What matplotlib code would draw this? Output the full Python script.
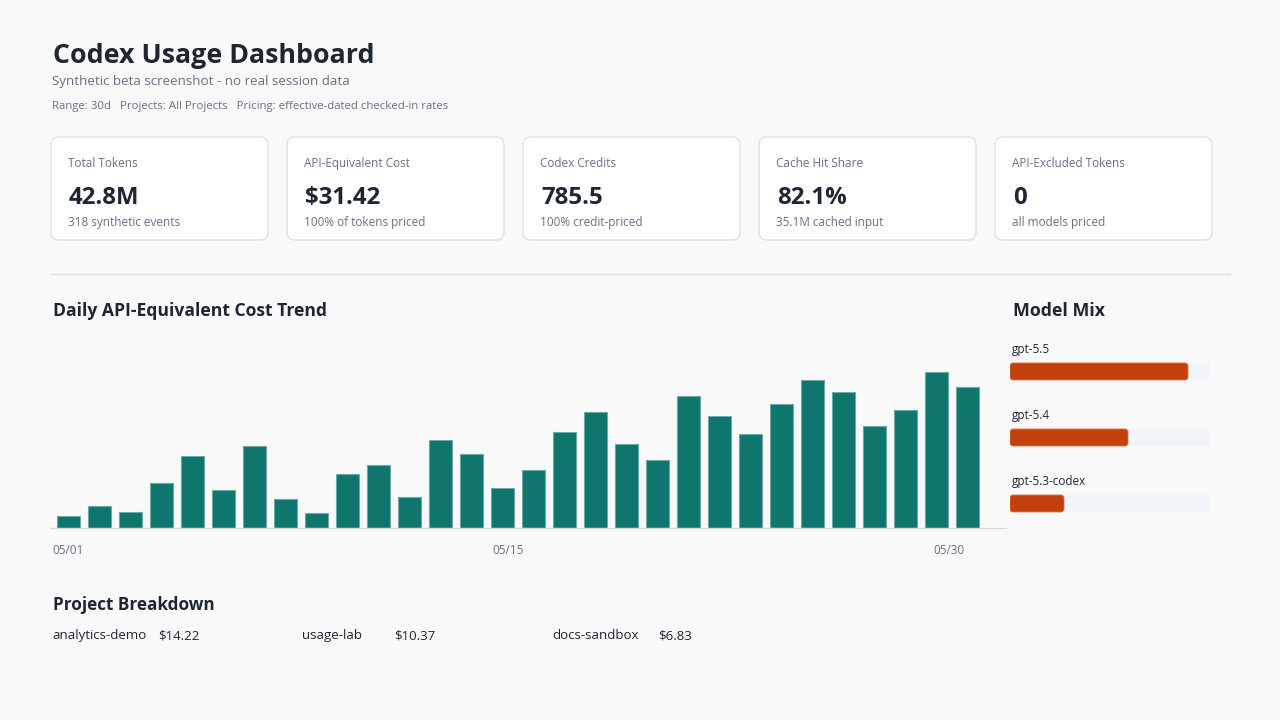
import matplotlib
matplotlib.use("Agg")
import matplotlib.pyplot as plt
from matplotlib.patches import FancyBboxPatch
import numpy as np

plt.rcParams['font.family'] = ['Open Sans', 'Noto Sans', 'DejaVu Sans']
BOLD = ['Open Sans', 'Lato', 'DejaVu Sans']

# ---- data ----
title = "Codex Usage Dashboard"
subtitle = "Synthetic beta screenshot - no real session data"
filters = "Range: 30d   Projects: All Projects   Pricing: effective-dated checked-in rates"

card_labels = ["Total Tokens", "API-Equivalent Cost", "Codex Credits", "Cache Hit Share", "API-Excluded Tokens"]
card_values = ["42.8M", "$31.42", "785.5", "82.1%", "0"]
card_notes = ["318 synthetic events", "100% of tokens priced", "100% credit-priced", "35.1M cached input", "all models priced"]

daily_cost = [0.16, 0.29, 0.21, 0.60, 0.96, 0.51, 1.09, 0.39, 0.20, 0.72,
              0.84, 0.41, 1.17, 0.98, 0.53, 0.77, 1.28, 1.54, 1.12, 0.90,
              1.75, 1.49, 1.25, 1.65, 1.97, 1.81, 1.36, 1.57, 2.07, 1.87]
date_ticks = ["05/01", "05/15", "05/30"]

models = ["gpt-5.5", "gpt-5.4", "gpt-5.3-codex"]
model_share = [0.89, 0.59, 0.27]

projects = ["analytics-demo", "usage-lab", "docs-sandbox"]
project_costs = ["$14.22", "$10.37", "$6.83"]

# ---- style ----
BG = "#f9f9fa"
DARK = "#1f2633"
MUTED = "#667085"
BORDER = "#dde1e7"
TEAL = "#0f766e"
ORANGE = "#c2410c"
TRACK = "#f1f4f8"

W, H = 1280, 720
fig = plt.figure(figsize=(W / 100, H / 100), dpi=100, facecolor=BG)

# background canvas in pixel units
bg = fig.add_axes([0, 0, 1, 1])
bg.set_xlim(0, W)
bg.set_ylim(H, 0)
bg.axis('off')
bg.set_facecolor(BG)


def fig_rect(x0, y0, x1, y1):
    return [x0 / W, 1 - y1 / H, (x1 - x0) / W, (y1 - y0) / H]


def put(x, y, s, size, color=DARK, bold=False, ha='left', ax=None):
    kw = dict(fontweight='bold', family=BOLD) if bold else {}
    (ax or bg).text(x, y, s, fontsize=size, color=color, va='baseline', ha=ha, **kw)


# header
put(53, 63, title, 19.3, bold=True)
put(52, 84.5, subtitle, 9.6, MUTED)
put(52, 108.5, filters, 8.2, MUTED)

# KPI cards
for i, (lab, val, note) in enumerate(zip(card_labels, card_values, card_notes)):
    x0 = 51 + i * 236
    card = FancyBboxPatch((x0, 137), 217, 103, boxstyle="round,pad=0,rounding_size=8",
                          facecolor="white", edgecolor=BORDER, linewidth=1)
    bg.add_patch(card)
    put(x0 + 17, 167, lab, 8.5, MUTED)
    put(x0 + 18, 204, val, 17.3, bold=True)
    put(x0 + 17, 226, note, 8.5, MUTED)

# separator
bg.plot([50, 1230], [274, 274], color=BORDER, linewidth=1)

# section titles
put(53, 316, "Daily API-Equivalent Cost Trend", 12.6, bold=True)
put(1013, 316, "Model Mix", 12.8, bold=True)
put(53, 610, "Project Breakdown", 12.3, bold=True)

# ---- daily cost bars ----
ax = fig.add_axes(fig_rect(50, 340, 1006, 528))
ax.set_facecolor('none')
days = np.arange(len(daily_cost))
ax.bar(days, daily_cost, width=0.742, color=TEAL, edgecolor="#6aaaa3", linewidth=0.8)
ax.set_xlim(-0.597, 30.24)
ax.set_ylim(0, 2.5)
for s in ['top', 'right', 'left']:
    ax.spines[s].set_visible(False)
ax.spines['bottom'].set_color("#d5d9e0")
ax.spines['bottom'].set_linewidth(1)
ax.set_xticks([])
ax.set_yticks([])

# date labels spread across the axis (space-between)
tick_x = [52, 508, 965]
for lab, tx, ha in zip(date_ticks, tick_x, ['left', 'center', 'right']):
    put(tx, 553.5, lab, 8.5, MUTED, ha=ha)

# ---- model mix ----
mx = fig.add_axes(fig_rect(1010, 340, 1210, 520))
mx.set_facecolor('none')
mx.axis('off')
mx.set_xlim(0, 1)
mx.set_ylim(2.25, -0.477)
bh = 17 / 66
aspect = 200 / 66
rows = np.arange(len(models))
for r, name, share in zip(rows, models, model_share):
    mx.add_patch(FancyBboxPatch((0, r - bh / 2), 1, bh, boxstyle="round,pad=0,rounding_size=0.015",
                                mutation_aspect=aspect, facecolor=TRACK, edgecolor='none'))
    mx.add_patch(FancyBboxPatch((0, r - bh / 2), share, bh, boxstyle="round,pad=0,rounding_size=0.015",
                                mutation_aspect=aspect, facecolor=ORANGE, edgecolor="#d9744a", linewidth=0.6))
    put(0.01, r - 18 / 66, name, 8.5, ax=mx)

# ---- project breakdown ----
name_x = [52, 302, 552]
cost_x = [158, 394, 658]
for p, c, nx, cx in zip(projects, project_costs, name_x, cost_x):
    put(nx, 639, p, 9.5)
    put(cx, 639, c, 9.5)

fig.savefig("out.png", dpi=100, facecolor=BG)
